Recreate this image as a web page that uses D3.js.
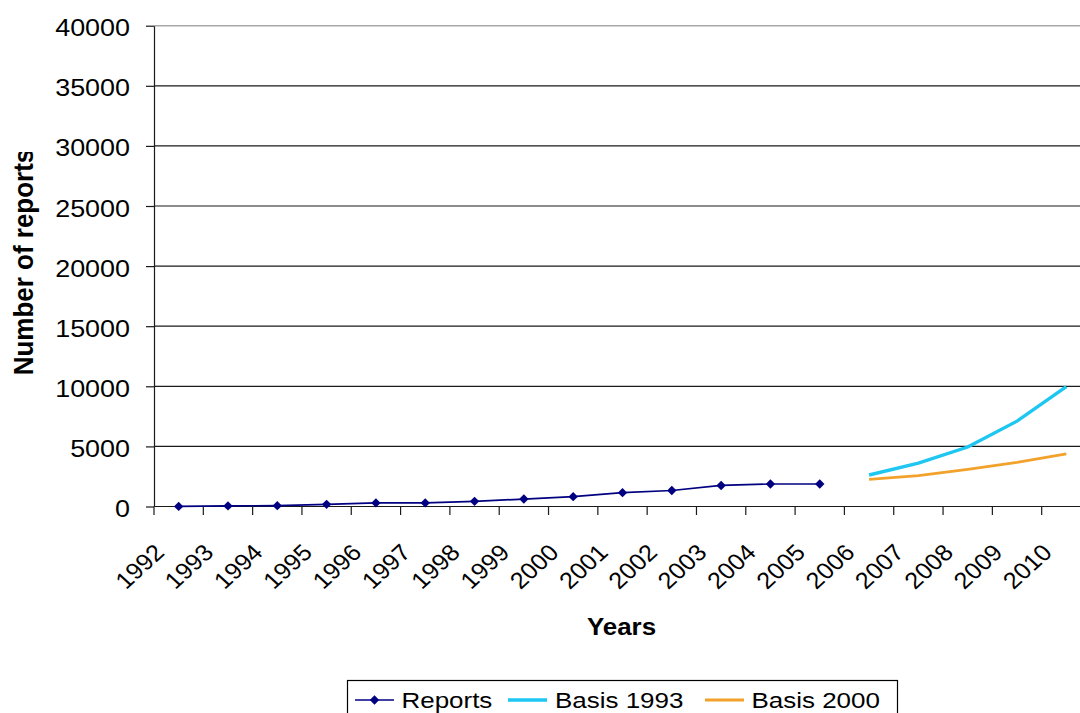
<!DOCTYPE html>
<html>
<head>
<meta charset="utf-8">
<script src="https://cdn.jsdelivr.net/npm/d3@7"></script>
<style>
  html, body { margin: 0; padding: 0; background: #ffffff; }
  svg { display: block; }
  text { font-family: Arial, "Liberation Sans", sans-serif; fill: #000; }
</style>
</head>
<body>
<svg id="chart" width="1080" height="713"></svg>
<script>
// ---------------- data ----------------
const years = ["1992","1993","1994","1995","1996","1997","1998","1999","2000",
               "2001","2002","2003","2004","2005","2006","2007","2008","2009","2010"];
const reportYears = ["1992","1993","1994","1995","1996","1997","1998","1999","2000",
                     "2001","2002","2003","2004","2005"];
const reports = [10, 50, 70, 180, 300, 300, 430, 620, 820, 1150, 1330, 1750, 1870, 1870];
const forecastYears = ["2006","2007","2008","2009","2010"];
const basis1993 = [2620, 3600, 4950, 7100, 9980];
const basis2000 = [2250, 2560, 3090, 3680, 4370];
const yTicks = [0, 5000, 10000, 15000, 20000, 25000, 30000, 35000, 40000];
const seriesNames = ["Reports", "Basis 1993", "Basis 2000"];
const xTitle = "Years";
const yTitle = "Number of reports";

// ---------------- layout ----------------
const svg = d3.select("#chart");
const plotL = 154, plotR = 1091, plotT = 25.7, plotB = 506.5;
const kStretch = 1.17;         // horizontal stretch of the original rendering
const navy = "#000080", cyan = "#1ec6f2", orange = "#f2a22a";

const x = d3.scaleBand().domain(years).range([plotL, plotR]).padding(0);
const y = d3.scaleLinear().domain([0, 40000]).range([plotB, plotT]);
const cx = d => x(d) + x.bandwidth() / 2;

// gridlines
svg.append("g").selectAll("line").data(yTicks).join("line")
  .attr("x1", plotL).attr("x2", plotR)
  .attr("y1", d => y(d)).attr("y2", d => y(d))
  .attr("stroke", d => d === 40000 ? "#a8a8a8" : "#1a1a1a")
  .attr("stroke-width", d => d === 40000 ? 1.6 : 1.2);

// y axis
const yAxis = svg.append("g").attr("transform", `translate(${plotL},0)`)
  .call(d3.axisLeft(y).tickValues(yTicks).tickSize(8).tickSizeOuter(0).tickFormat(d3.format("d")));
yAxis.select(".domain").attr("stroke", "#1a1a1a").attr("stroke-width", 1.2);
yAxis.selectAll(".tick line").attr("stroke", "#1a1a1a").attr("stroke-width", 1.2);
yAxis.selectAll(".tick text")
  .attr("x", 0).attr("dy", null).attr("y", 10)
  .attr("text-anchor", "end")
  .attr("transform", `translate(-24,0) scale(${kStretch},1)`)
  .style("font-size", "23px")
  .style("font-family", "Arial, 'Liberation Sans', sans-serif")
  .attr("fill", "#000");

// x axis ticks (between categories)
const edges = years.map(d => x(d)).concat([x(years[years.length - 1]) + x.bandwidth()]);
svg.append("g").selectAll("line").data(edges).join("line")
  .attr("x1", d => d).attr("x2", d => d)
  .attr("y1", plotB).attr("y2", plotB + 8.5)
  .attr("stroke", "#1a1a1a").attr("stroke-width", 1.2);

// x labels rotated
svg.append("g").selectAll("text").data(years).join("text")
  .attr("text-anchor", "end")
  .attr("transform", d => `translate(${cx(d) - 13},${plotB + 47.5}) scale(1.1,1) rotate(-45)`)
  .style("font-size", "23px")
  .text(d => d);

// x title
svg.append("text")
  .attr("text-anchor", "middle")
  .attr("transform", `translate(${(plotL + plotR) / 2 - 1},635) scale(1.08,1)`)
  .style("font-size", "24px").style("font-weight", "bold")
  .text(xTitle);

// y title (clipped at the top like the original)
svg.append("clipPath").attr("id", "ytclip")
  .append("rect").attr("x", 0).attr("y", 152).attr("width", 60).attr("height", 260);
svg.append("g").attr("clip-path", "url(#ytclip)")
  .append("text")
  .attr("text-anchor", "middle")
  .attr("transform", `translate(33.3,262) scale(1.07,1) rotate(-90)`)
  .style("font-size", "26px").style("font-weight", "bold")
  .text(yTitle);

// series lines
const line = d3.line().x(d => cx(d[0])).y(d => y(d[1]));
const repData = reportYears.map((d, i) => [d, reports[i]]);
const b93 = forecastYears.map((d, i) => [d, basis1993[i]]);
const b00 = forecastYears.map((d, i) => [d, basis2000[i]]);

svg.append("path").datum(b00).attr("d", line)
  .attr("fill", "none").attr("stroke", orange).attr("stroke-width", 2.8);
svg.append("path").datum(b93).attr("d", line)
  .attr("fill", "none").attr("stroke", cyan).attr("stroke-width", 3.4);
svg.append("path").datum(repData).attr("d", line)
  .attr("fill", "none").attr("stroke", navy).attr("stroke-width", 1.7);

const diamond = d3.symbol().type(d3.symbolSquare).size(44);
svg.append("g").selectAll("path").data(repData).join("path")
  .attr("d", diamond)
  .attr("transform", d => `translate(${cx(d[0])},${y(d[1])}) rotate(45)`)
  .attr("fill", navy);

// legend
const leg = svg.append("g");
leg.append("rect").attr("x", 347.5).attr("y", 680.5).attr("width", 550).attr("height", 40)
  .attr("fill", "#fff").attr("stroke", "#000").attr("stroke-width", 1.2);
const legItems = [
  { name: seriesNames[0], color: navy, w: 1.7, marker: true, lx: 355, tx: 401.5 },
  { name: seriesNames[1], color: cyan, w: 3.4, marker: false, lx: 508, tx: 555 },
  { name: seriesNames[2], color: orange, w: 2.8, marker: false, lx: 705, tx: 751.5 }
];
legItems.forEach(it => {
  leg.append("line").attr("x1", it.lx).attr("x2", it.lx + 39)
    .attr("y1", 700).attr("y2", 700)
    .attr("stroke", it.color).attr("stroke-width", it.w);
  if (it.marker) {
    leg.append("path").attr("d", diamond)
      .attr("transform", `translate(${it.lx + 19.5},700) rotate(45)`).attr("fill", navy);
  }
  leg.append("text")
    .attr("transform", `translate(${it.tx},707.5) scale(1.18,1)`)
    .style("font-size", "22px")
    .text(it.name);
});
</script>
</body>
</html>
